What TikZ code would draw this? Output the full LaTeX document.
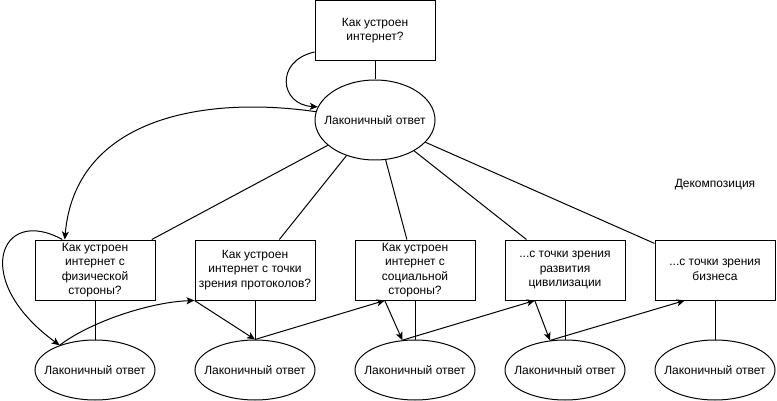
\documentclass[tikz,border=0pt]{standalone}
\usepackage{fontspec}
\setmainfont{Liberation Sans}
\usetikzlibrary{shapes.geometric,arrows.meta,calc}
\begin{document}
\begin{tikzpicture}[x=1pt,y=-1pt,
 every node/.style={font=\fontsize{12}{14.5}\selectfont},
 box/.style={draw,line width=1pt,minimum width=120pt,minimum height=60pt,inner sep=0pt,align=center},
 oval/.style={draw,ellipse,line width=1pt,inner sep=0pt,minimum width=120pt,minimum height=60pt},
 link/.style={line width=1pt},
 arr/.style={line width=1pt,-{Stealth[length=8pt,width=7pt,inset=2pt]}},
]
\useasboundingbox (0,0) rectangle (777,401);
\node[box] (q) at (375,30.5) {Как устроен\\интернет?};
\node[oval,minimum height=80pt] (ans) at (375,120) {\makebox[0pt]{Лаконичный ответ}};
\node[box] (b1) at (95,270) {Как устроен\\интернет с\\физической\\стороны?};
\node[box] (b2) at (255,270) {Как устроен\\интернет с точки\\зрения протоколов?};
\node[box] (b3) at (415,270) {Как устроен\\интернет с\\социальной\\стороны?};
\node[box] (b4) at (565,270) {...с точки зрения\\развития\\цивилизации};
\node[box] (b5) at (715,270) {...с точки зрения\\бизнеса};
\foreach \i/\x in {1/95,2/255,3/415,4/565,5/715}
  \node[oval] (e\i) at (\x,370) {\makebox[0pt]{Лаконичный ответ}};
\node (dec) at (715,185) {Декомпозиция};
\draw[link] (q) -- (ans);
\foreach \i in {1,...,5} {
  \draw[link] (ans) -- (b\i);
  \draw[link] (b\i) -- (e\i);
}
\coordinate (p1) at ($(b1.north west)!0.25!(b1.north east)$);
\coordinate (p1s) at ($(b1.north west)!0.23!(b1.north east)$);
\coordinate (p3) at ($(b3.south west)!0.25!(b3.south east)$);
\coordinate (p4) at ($(b4.south west)!0.25!(b4.south east)$);
\coordinate (p5) at ($(b5.south west)!0.25!(b5.south east)$);
\draw[arr] ($(q.south west)+(0,-9)$) .. controls +(-40,9) and +(-38,-2) .. (ans.167);
\draw[arr] (ans.172) .. controls (200,95) and (75,120) .. (p1);
\draw[arr] (p1s) .. controls (0,205) and (-30,280) .. (e1.145);
\draw[arr] (e1.145) .. controls (90,322) and (150,302) .. (b2.south west);
\draw[arr] (b2.south west) -- (e2.north);
\draw[arr] (e2.north) -- (p3);
\draw[arr] (p3) -- (e3.113);
\draw[arr] (e3.113) -- (p4);
\draw[arr] (p4) -- (e4.117);
\draw[arr] (e4.117) -- (p5);
\end{tikzpicture}
\end{document}
